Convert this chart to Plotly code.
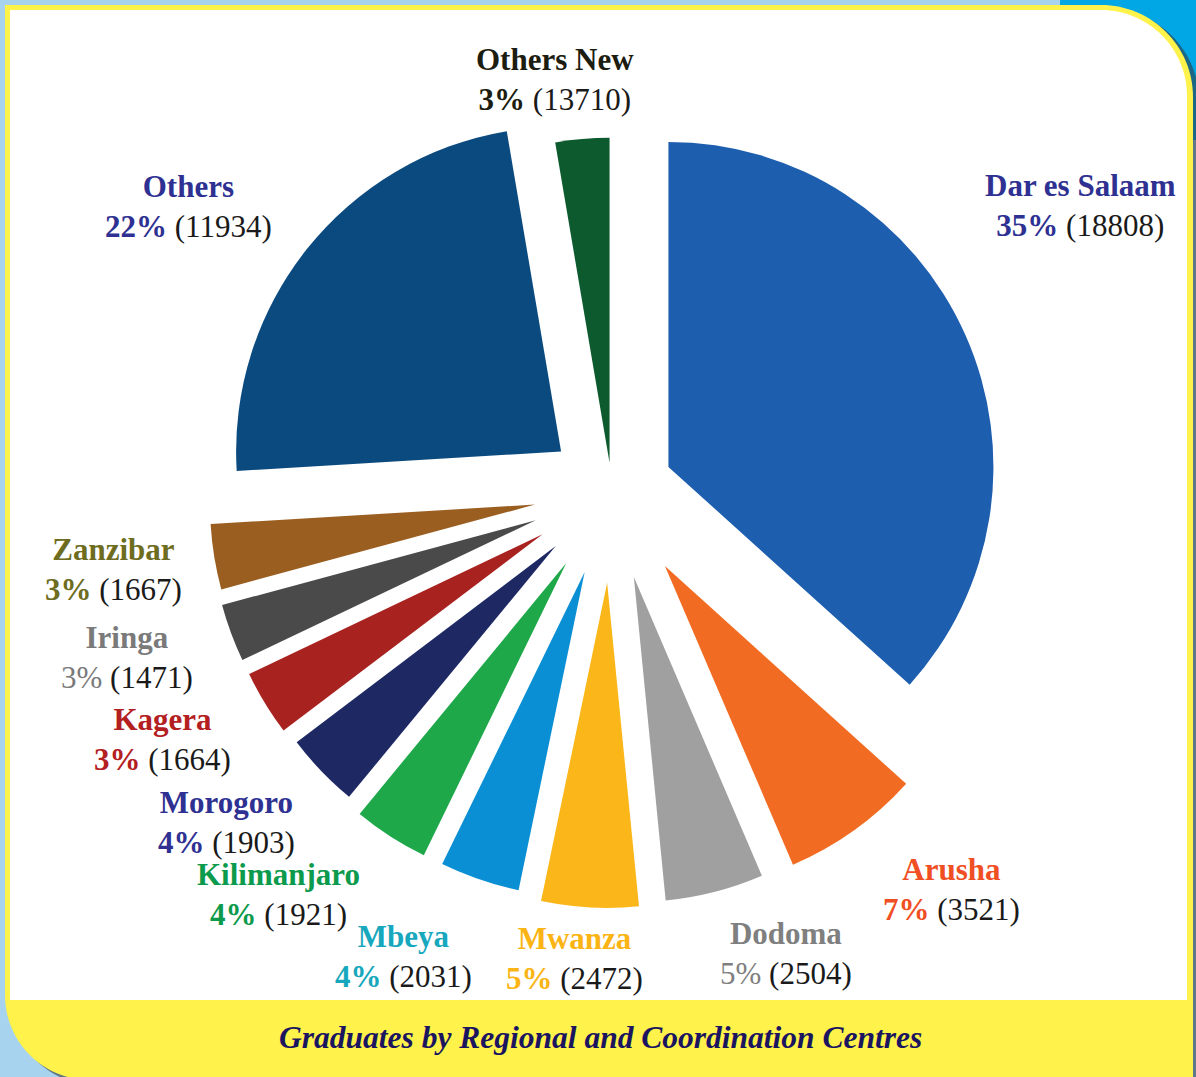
import plotly.graph_objects as go

# ---- data -------------------------------------------------------------
regions = [
    "Dar es Salaam", "Arusha", "Dodoma", "Mwanza", "Mbeya", "Kilimanjaro",
    "Morogoro", "Kagera", "Iringa", "Zanzibar", "Others", "Others New",
]
# number of graduates per centre (Others New counted as 1371 – its share is 3%)
graduates = [18808, 3521, 2504, 2472, 2031, 1921, 1903, 1664, 1471, 1667, 11934, 1371]
# printed figures
pct_text = ["35%", "7%", "5%", "5%", "4%", "4%", "4%", "3%", "3%", "3%", "22%", "3%"]
count_text = ["18808", "3521", "2504", "2472", "2031", "1921", "1903", "1664",
              "1471", "1667", "11934", "13710"]

# ---- styles -----------------------------------------------------------
slice_colors = ["#1d5fae", "#f26b22", "#a0a0a0", "#fbb61a", "#0b8fd4", "#1fa84a",
                "#1e2964", "#a8221f", "#4a4a4a", "#9a5f20", "#0b4a7e", "#0d5a2e"]
label_colors = ["#2e3192", "#f04e23", "#7f7f7f", "#fab414", "#17a8be", "#0c9a4c",
                "#2e3192", "#b3201f", "#7a7a7a", "#6e6c1e", "#2e3192", "#1c1c10"]
pct_bold = [True, True, False, True, True, True, True, True, False, True, True, True]
pulls = [0.19, 0.28, 0.27, 0.28, 0.26, 0.26, 0.24, 0.25, 0.25, 0.24, 0.20, 0.09]
# label block centres in pixels (x, y)
label_pos = [(1080, 206), (951, 889), (786, 953), (574, 958), (403, 956), (278, 894),
             (226, 822), (162, 739), (127, 657), (113, 569), (188, 207), (555, 80)]

W, H = 1196, 1077


def px(x):
    return x / W


def py(y):
    return 1 - y / H


# pie geometry (pixels)
CX, CY, R = 612, 492, 325
half = R * (1 + max(pulls))
dom_x = [px(CX - half), px(CX + half)]
dom_y = [py(CY + half), py(CY - half)]

fig = go.Figure(go.Pie(
    labels=regions,
    values=graduates,
    sort=False,
    direction="clockwise",
    rotation=0,
    pull=pulls,
    marker=dict(colors=slice_colors, line=dict(width=0)),
    textinfo="none",
    hoverinfo="label+value",
    showlegend=False,
    domain=dict(x=dom_x, y=dom_y),
))

K = 0.5523


def rounded_panel(x0, y0, x1, y1, r_tr, r_bl):
    """Panel with rounded top-right and bottom-left corners (pixel coords)."""
    p = [f"M {px(x0)} {py(y0)}",
         f"L {px(x1 - r_tr)} {py(y0)}",
         f"C {px(x1 - r_tr + K * r_tr)} {py(y0)} {px(x1)} {py(y0 + r_tr - K * r_tr)} "
         f"{px(x1)} {py(y0 + r_tr)}",
         f"L {px(x1)} {py(y1)}"]
    if r_bl > 0:
        p.append(f"L {px(x0 + r_bl)} {py(y1)}")
        p.append(f"C {px(x0 + r_bl - K * r_bl)} {py(y1)} {px(x0)} {py(y1 - r_bl + K * r_bl)} "
                 f"{px(x0)} {py(y1 - r_bl)}")
    else:
        p.append(f"L {px(x0)} {py(y1)}")
    p.append("Z")
    return " ".join(p)


shapes = [
    # bright blue corner behind the panel
    dict(type="rect", xref="paper", yref="paper", x0=px(1060), x1=1, y0=py(140), y1=1,
         fillcolor="#00a7e4", line=dict(width=0), layer="below"),
    # panel shadow
    dict(type="path", xref="paper", yref="paper",
         path=rounded_panel(11, 9, 1199, 1085, 92, 85),
         fillcolor="rgba(45,60,70,0.6)", line=dict(width=0), layer="below"),
    # yellow frame
    dict(type="path", xref="paper", yref="paper",
         path=rounded_panel(5, 5, 1193, 1080, 92, 85),
         fillcolor="#fff24a", line=dict(width=0), layer="below"),
    # white chart area
    dict(type="path", xref="paper", yref="paper",
         path=rounded_panel(10, 10, 1187, 1000, 86, 0),
         fillcolor="#ffffff", line=dict(width=0), layer="below"),
]

annotations = []
for name, pct, cnt, col, bold, (lx, ly) in zip(regions, pct_text, count_text,
                                               label_colors, pct_bold, label_pos):
    pct_html = f"<b>{pct}</b>" if bold else pct
    text = (f"<b>{name}</b><br>{pct_html} "
            f"<span style='color:#1a1a1a'>({cnt})</span>")
    annotations.append(dict(
        x=px(lx), y=py(ly), xref="paper", yref="paper",
        text=text, showarrow=False, xanchor="center", yanchor="middle",
        align="center",
        font=dict(family="Liberation Serif", size=31, color=col),
    ))

annotations.append(dict(
    x=px(600), y=py(1037), xref="paper", yref="paper",
    text="<b><i>Graduates by Regional and Coordination Centres</i></b>",
    showarrow=False, xanchor="center", yanchor="middle",
    font=dict(family="Liberation Serif", size=31.5, color="#1b1560"),
))

fig.update_layout(
    width=W, height=H,
    margin=dict(l=0, r=0, t=0, b=0),
    paper_bgcolor="#a8d3ee",
    plot_bgcolor="rgba(0,0,0,0)",
    shapes=shapes,
    annotations=annotations,
)

fig.write_html("out.html")
